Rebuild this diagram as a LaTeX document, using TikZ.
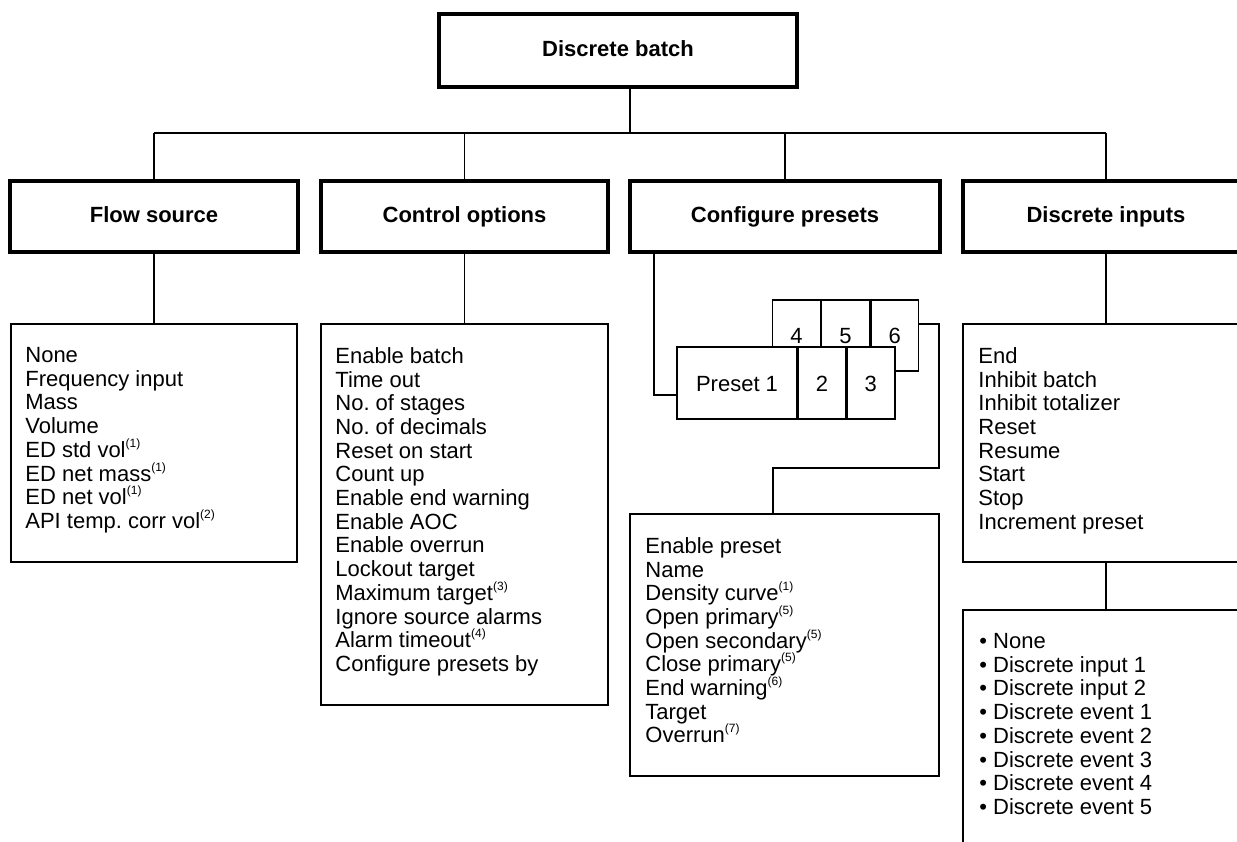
\documentclass[tikz,border=0pt]{standalone}
\usepackage{fontspec}
\setmainfont{Liberation Sans}
\newcommand{\sups}[1]{\raisebox{10pt}{\fontsize{12}{12}\selectfont #1}}
\tikzset{
  hdr/.style={draw, line width=3.2pt, minimum height=71pt, inner sep=0pt,
    text height=16pt, text depth=4.6pt,
    font=\bfseries\fontsize{22}{26}\selectfont},
  lbox/.style={draw, line width=1.6pt, inner sep=0pt},
  lst/.style={font=\fontsize{22}{23.7}\selectfont\frenchspacing, align=left, inner sep=0pt, anchor=north west},
  cell/.style={draw, fill=white, line width=1.4pt, inner sep=0pt, minimum height=71pt,
    text height=16pt, text depth=0pt, font=\fontsize{22}{26}\selectfont},
  conn/.style={line width=1.3pt}
}
\begin{document}
\begin{tikzpicture}[x=1pt, y=-1pt]
\useasboundingbox (0,0) rectangle (1237,841);
\clip (0,0) rectangle (1237,841);

% top and level-2 headers
\node[hdr, minimum width=358pt, minimum height=73pt] (top) at (618,50.5) {Discrete batch};
\node[hdr, minimum width=288pt] (fs) at (154,216.5) {Flow source};
\node[hdr, minimum width=287pt] (co) at (464.5,216.5) {Control options};
\node[hdr, minimum width=310pt] (cp) at (785,216.5) {Configure presets};
\node[hdr, minimum width=286pt] (di) at (1106,216.5) {Discrete inputs};

\coordinate (bus) at (630,133);
\draw[conn] (top.south -| bus) -- (bus);
\draw[conn] (fs.north |- bus) -- (di.north |- bus);
\foreach \n in {fs,co,cp,di} \draw[conn] (\n.north |- bus) -- (\n.north);

% list boxes
\node[lbox, minimum width=286pt, minimum height=238pt] (fsl) at (154,443) {};
\node[lbox, minimum width=287pt, minimum height=381pt] (col) at (464.5,514.5) {};
\node[lbox, minimum width=309pt, minimum height=262pt] (cpl) at (784.5,645) {};
\node[lbox, minimum width=286pt, minimum height=238pt] (dil) at (1106,443) {};
\node[lbox, minimum width=286pt, minimum height=260pt] (dil2) at (1106,740) {};

\draw[conn] (fs) -- (fsl);
\draw[conn] (co) -- (col);
\draw[conn] (di) -- (dil);
\draw[conn] (dil) -- (dil2);

% list texts
\node[lst] (fst) at ([shift={(15,24)}]fsl.north west)
  {None\\Frequency input\\Mass\\Volume\\ED std vol\sups{(1)}\\ED net mass\sups{(1)}\\ED net vol\sups{(1)}\\API temp. corr vol\sups{(2)}};
\node[lst] (cot) at ([shift={(15,24)}]col.north west)
  {Enable batch\\Time out\\No. of stages\\No. of decimals\\Reset on start\\Count up\\Enable end warning\\Enable AOC\\Enable overrun\\Lockout target\\Maximum target\sups{(3)}\\Ignore source alarms\\Alarm timeout\sups{(4)}\\Configure presets by};
\node[lst] (cpt) at ([shift={(16,24)}]cpl.north west)
  {Enable preset\\Name\\Density curve\sups{(1)}\\Open primary\sups{(5)}\\Open secondary\sups{(5)}\\Close primary\sups{(5)}\\End warning\sups{(6)}\\Target\\Overrun\sups{(7)}};
\node[lst] (dit) at ([shift={(16,24)}]dil.north west)
  {End\\Inhibit batch\\Inhibit totalizer\\Reset\\Resume\\Start\\Stop\\Increment preset};
\node[lst] (dit2) at ([shift={(17,24)}]dil2.north west)
  {\textbullet\ None\\\textbullet\ Discrete input 1\\\textbullet\ Discrete input 2\\\textbullet\ Discrete event 1\\\textbullet\ Discrete event 2\\\textbullet\ Discrete event 3\\\textbullet\ Discrete event 4\\\textbullet\ Discrete event 5};

% preset cards
\node[cell, minimum width=47.7pt] (p4) at (796.5,335.5) {4};
\node[cell, minimum width=47.7pt, anchor=west] (p5) at (p4.east) {5};
\node[cell, minimum width=47.7pt, anchor=west] (p6) at (p5.east) {6};
\node[cell, minimum width=120pt, minimum height=72pt] (f1) at (737,383) {Preset 1};
\node[cell, minimum width=47pt, minimum height=72pt, anchor=west] (f2) at (f1.east) {2};
\node[cell, minimum width=48pt, minimum height=72pt, anchor=west] (f3) at (f2.east) {3};

\coordinate (c1) at (654,395);
\draw[conn] (cp.south -| c1) -- (c1) -- (c1 -| f1.west);
\coordinate (c2) at (939,324);
\coordinate (c3) at (939,468);
\coordinate (c4) at (773,468);
\draw[conn] (p6.east |- c2) -- (c2) -- (c3) -- (c4) -- (c4 |- cpl.north);
\end{tikzpicture}
\end{document}
